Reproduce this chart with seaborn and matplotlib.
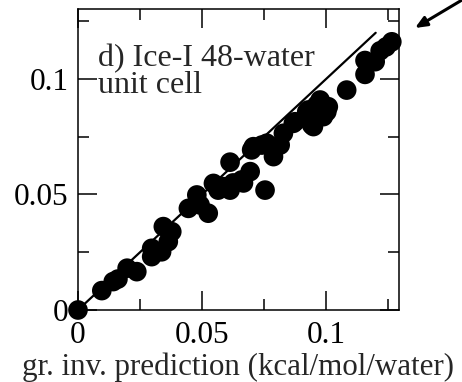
import matplotlib
matplotlib.use("Agg")
import matplotlib.pyplot as plt
import seaborn as sns
import pandas as pd
from matplotlib.ticker import FixedLocator

# Data (kcal/mol/water)
pred_x = [0.0, 0.0096, 0.0142, 0.0161, 0.0198, 0.0237, 0.0297, 0.0297, 0.0315, 0.0337,
          0.0344, 0.0378, 0.0364, 0.0445, 0.0479, 0.0492, 0.0525, 0.0546, 0.0565, 0.0586,
          0.0613, 0.0625, 0.0667, 0.0613, 0.0660, 0.0694, 0.0700, 0.0707, 0.0741, 0.0761,
          0.0788, 0.0754, 0.0815, 0.0828, 0.0868, 0.0922, 0.0942, 0.0962, 0.0976, 0.1003,
          0.0989, 0.1009, 0.0929, 0.1083, 0.1157, 0.1157, 0.1198, 0.1218, 0.1242, 0.1265,
          0.0875, 0.0949, 0.0935]
actual_y = [0.0, 0.0084, 0.0123, 0.0134, 0.0181, 0.0166, 0.0267, 0.0231, 0.0251, 0.0252,
            0.0361, 0.0339, 0.0296, 0.0440, 0.0498, 0.0455, 0.0419, 0.0548, 0.0519, 0.0534,
            0.0519, 0.0550, 0.0550, 0.0640, 0.0563, 0.0599, 0.0693, 0.0707, 0.0714, 0.0722,
            0.0664, 0.0519, 0.0714, 0.0765, 0.0808, 0.0858, 0.0801, 0.0887, 0.0909, 0.0858,
            0.0837, 0.0880, 0.0866, 0.0952, 0.1020, 0.1080, 0.1075, 0.1122, 0.1139, 0.1161,
            0.0815, 0.0794, 0.0858]
line_x = [0.0, 0.12]
line_y = [0.0, 0.12]
x_major = [0.0, 0.05, 0.1]
x_major_labels = ["0", "0.05", "0.1"]
y_major = [0.0, 0.05, 0.1]
y_major_labels = ["0", "0.05", "0.1"]
minor_ticks = [0.025, 0.075, 0.125]
panel_text = "d) Ice-I 48-water\nunit cell"
xlabel = "gr. inv. prediction (kcal/mol/water)"

sns.set_style("ticks")
plt.rcParams["font.family"] = ["Liberation Serif", "DejaVu Serif"]

fig = plt.figure(figsize=(4.62, 3.82), dpi=100)
ax = fig.add_axes([78/462, 72/382, 321/462, 301/382])

df = pd.DataFrame({"x": pred_x, "y": actual_y})
ax.plot(line_x, line_y, color="black", lw=1.6, zorder=2)
sns.scatterplot(data=df, x="x", y="y", ax=ax, color="black", s=200,
                edgecolor="none", linewidth=0, zorder=3, clip_on=False)

ax.set_xlim(0, 0.1294)
ax.set_ylim(0, 0.1303)
ax.xaxis.set_major_locator(FixedLocator(x_major))
ax.yaxis.set_major_locator(FixedLocator(y_major))
ax.set_xticklabels(x_major_labels)
ax.set_yticklabels(y_major_labels)
ax.xaxis.set_minor_locator(FixedLocator(minor_ticks))
ax.yaxis.set_minor_locator(FixedLocator(minor_ticks))
ax.tick_params(which="both", direction="in", top=True, right=True, width=1.1,
               colors="black", labelsize=22.5)
ax.tick_params(which="major", length=13.5)
ax.tick_params(which="minor", length=8)
ax.tick_params(axis="x", pad=8)
ax.tick_params(axis="y", pad=7)
for s in ax.spines.values():
    s.set_linewidth(1.1)
    s.set_color("black")

ax.set_xlabel(xlabel, fontsize=22.3, labelpad=2)
ax.set_ylabel("")
ax.text(0.062, 0.885, panel_text, transform=ax.transAxes, fontsize=23,
        va="top", ha="left", linespacing=0.93)

ax.annotate("", xy=(415/462, 1 - 28/382), xycoords="figure fraction",
            xytext=(1.0, 1.0), textcoords="figure fraction",
            arrowprops=dict(arrowstyle="-|>,head_length=0.7,head_width=0.3",
                            color="black", lw=2.2, shrinkA=0, shrinkB=0))

fig.savefig("out.png", dpi=100)
